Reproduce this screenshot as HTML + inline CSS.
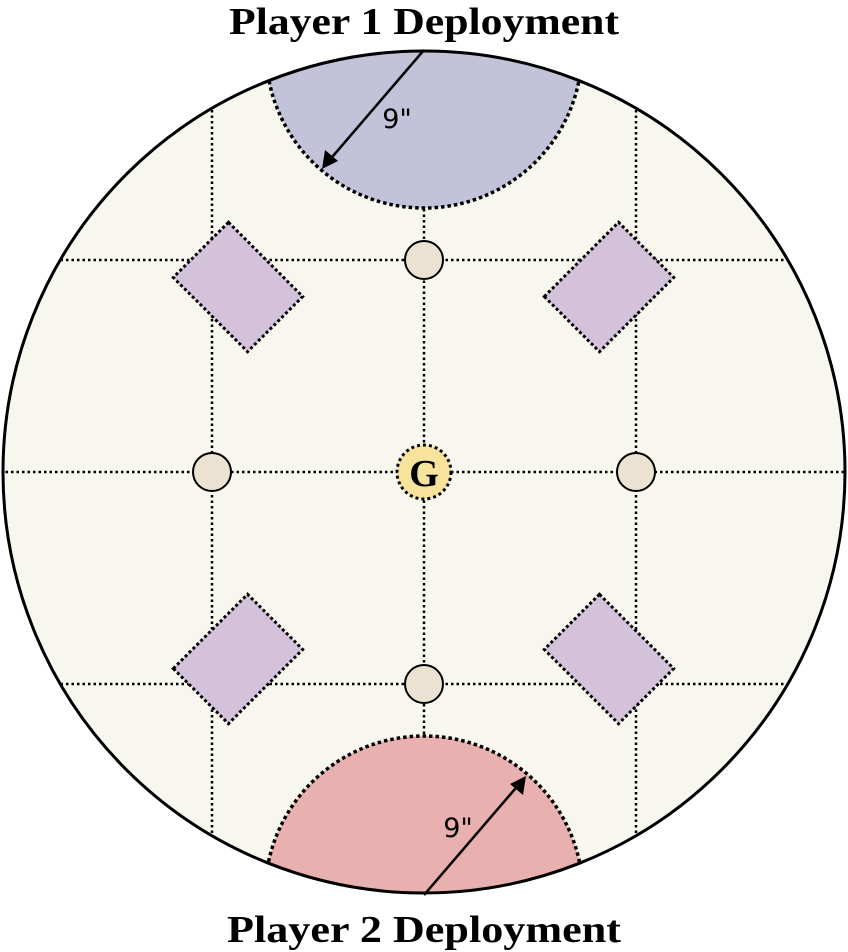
<!DOCTYPE html>
<html><head><style>html,body{margin:0;padding:0;background:#fff;width:848px;height:952px;overflow:hidden;}svg{display:block}</style></head>
<body>
<svg width="848" height="952" viewBox="0 0 848 952" xmlns="http://www.w3.org/2000/svg">
<defs>
<clipPath id="c"><circle cx="424" cy="472" r="421"/></clipPath>
</defs>
<circle cx="424" cy="472" r="421" fill="#f7f7f0"/>
<g clip-path="url(#c)">
<g stroke="#000" stroke-width="2.5" stroke-dasharray="2.5,3" fill="none">
<line x1="212" y1="0" x2="212" y2="952"/>
<line x1="424" y1="0" x2="424" y2="952"/>
<line x1="636" y1="0" x2="636" y2="952"/>
<line x1="0" y1="260" x2="848" y2="260"/>
<line x1="0" y1="472" x2="848" y2="472"/>
<line x1="0" y1="684" x2="848" y2="684"/>
</g>
<circle cx="424" cy="50" r="158" fill="#c2c3d8" stroke="#000" stroke-width="3.5" stroke-dasharray="3.5,3"/>
<circle cx="424" cy="895" r="159" fill="#e9b0b0" stroke="#000" stroke-width="3.5" stroke-dasharray="3.5,3"/>
</g>
<circle cx="424" cy="472" r="421" fill="none" stroke="#000" stroke-width="3"/>
<g fill="#d4c2da" stroke="#000" stroke-width="3" stroke-dasharray="3,2.5">
<rect x="-52.5" y="-39" width="105" height="78" transform="translate(238,287) rotate(45)"/>
<rect x="-52.5" y="-39" width="105" height="78" transform="translate(609,287) rotate(-45)"/>
<rect x="-52.5" y="-39" width="105" height="78" transform="translate(238,659) rotate(-45)"/>
<rect x="-52.5" y="-39" width="105" height="78" transform="translate(609,659) rotate(45)"/>
</g>
<g fill="#ebe2d2" stroke="#000" stroke-width="2">
<circle cx="424" cy="260" r="19"/>
<circle cx="212" cy="472" r="19"/>
<circle cx="636" cy="472" r="19"/>
<circle cx="424" cy="684" r="19"/>
</g>
<circle cx="424" cy="472" r="27" fill="#f8e39c" stroke="#000" stroke-width="3" stroke-dasharray="3,3"/>
<text x="424" y="486" font-family="Liberation Serif, serif" font-weight="bold" font-size="38" text-anchor="middle">G</text>
<line x1="424" y1="50" x2="327" y2="163" stroke="#000" stroke-width="2.5"/>
<path d="M322,169 L325,150 L338,161 z" fill="#000"/>
<line x1="424" y1="895" x2="521" y2="782" stroke="#000" stroke-width="2.5"/>
<path d="M526,776 L523,795 L510,784 z" fill="#000"/>
<text x="397" y="128" font-family="DejaVu Sans, sans-serif" font-size="27" text-anchor="middle">9"</text>
<text x="458" y="837" font-family="DejaVu Sans, sans-serif" font-size="27" text-anchor="middle">9"</text>
<text x="424" y="34" font-family="Liberation Serif, serif" font-weight="bold" font-size="38" text-anchor="middle" textLength="390" lengthAdjust="spacingAndGlyphs">Player 1 Deployment</text>
<text x="424" y="942" font-family="Liberation Serif, serif" font-weight="bold" font-size="38" text-anchor="middle" textLength="394" lengthAdjust="spacingAndGlyphs">Player 2 Deployment</text>
</svg>
</body></html>
